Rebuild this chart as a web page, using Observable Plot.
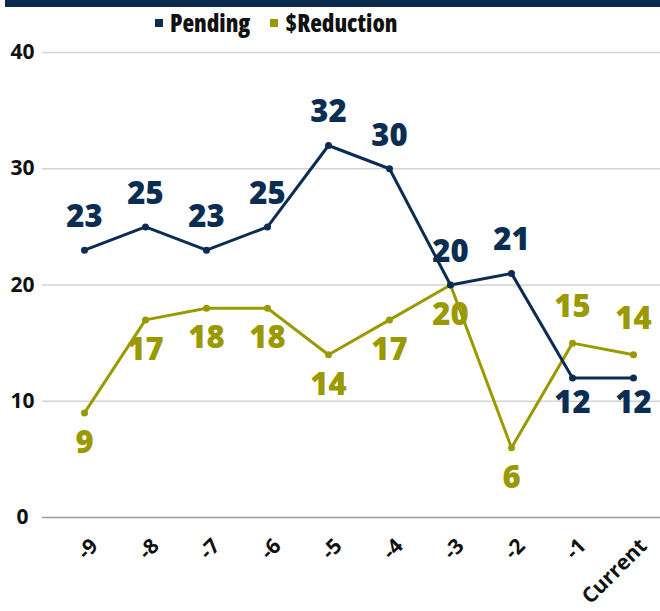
<!DOCTYPE html>
<html><head><meta charset="utf-8">
<script src="https://cdn.jsdelivr.net/npm/d3@7"></script>
<script src="https://cdn.jsdelivr.net/npm/@observablehq/plot@0.6"></script>
<style>
body{margin:0;background:#fff;font-family:"Open Sans",sans-serif;}
#bar{height:7px;margin-left:5px;background:#0B2A4E;}
#legend{height:31px;display:flex;align-items:center;padding-left:155px;font-weight:800;font-size:24px;color:#111;font-stretch:78%;line-height:1}
#legend .item{display:flex;align-items:center;margin-right:20px}
#legend span.sw{display:inline-block;width:8px;height:8px;margin-right:7px}
</style></head>
<body>
<div id="bar"></div>
<div id="legend"><div class="item"><span class="sw" style="background:#0B2D52"></span>Pending</div><div class="item"><span class="sw" style="background:#9A9A00"></span>$Reduction</div></div>
<div id="chart"></div>
<script>
const categories = ["-9","-8","-7","-6","-5","-4","-3","-2","-1","Current"];
const pending = [23,25,23,25,32,30,20,21,12,12];
const reduction = [9,17,18,18,14,17,20,6,15,14];
const yTicks = [0,10,20,30,40];
const navy = "#0B2D52", olive = "#9A9A00";

const rows = [];
categories.forEach((c,i)=>{
  rows.push({cat:c, value:pending[i], series:"Pending", above: pending[i] >= reduction[i]});
  rows.push({cat:c, value:reduction[i], series:"$Reduction", above: reduction[i] > pending[i]});
});
const P = rows.filter(d=>d.series==="Pending");
const R = rows.filter(d=>d.series==="$Reduction");

const chart = Plot.plot({
  width: 660, height: 573,
  marginLeft: 42, marginRight: 0, marginTop: 14, marginBottom: 94,
  x: {type:"point", domain: categories, range:[83,634], padding:0},
  y: {domain:[0,40], ticks: yTicks},
  style: {fontFamily:"'Open Sans', sans-serif"},
  marks: [
    Plot.ruleY(yTicks.filter(t=>t>0), {stroke:"#D3D3D3", strokeWidth:1.5}),
    Plot.ruleY([0], {stroke:"#9E9E9E", strokeWidth:1.5}),
    Plot.axisY({ticks: yTicks, tickSize:0, tickPadding:20, textAnchor:"middle", fontSize:21, fontWeight:700, fill:"#111", label:null}),
    Plot.axisX({tickSize:0, tickPadding:25, dx:10, tickRotate:-45, fontSize:21, fontWeight:700, fill:"#111", label:null}),
    Plot.line(R, {x:"cat", y:"value", stroke:olive, strokeWidth:3}),
    Plot.line(P, {x:"cat", y:"value", stroke:navy, strokeWidth:3}),
    Plot.dot(R, {x:"cat", y:"value", fill:olive, r:3.5}),
    Plot.dot(P, {x:"cat", y:"value", fill:navy, r:3.5}),
    Plot.text(P.filter(d=>d.above), {x:"cat", y:"value", text:d=>String(d.value), dy:-33, fill:navy, fontSize:31, fontWeight:800}),
    Plot.text(P.filter(d=>!d.above), {x:"cat", y:"value", text:d=>String(d.value), dy:25, fill:navy, fontSize:31, fontWeight:800}),
    Plot.text(R.filter(d=>d.above), {x:"cat", y:"value", text:d=>String(d.value), dy:-36, fill:olive, fontSize:31, fontWeight:800}),
    Plot.text(R.filter(d=>!d.above), {x:"cat", y:"value", text:d=>String(d.value), dy:30, fill:olive, fontSize:31, fontWeight:800})
  ]
});
document.getElementById("chart").appendChild(chart);
</script>
</body></html>
